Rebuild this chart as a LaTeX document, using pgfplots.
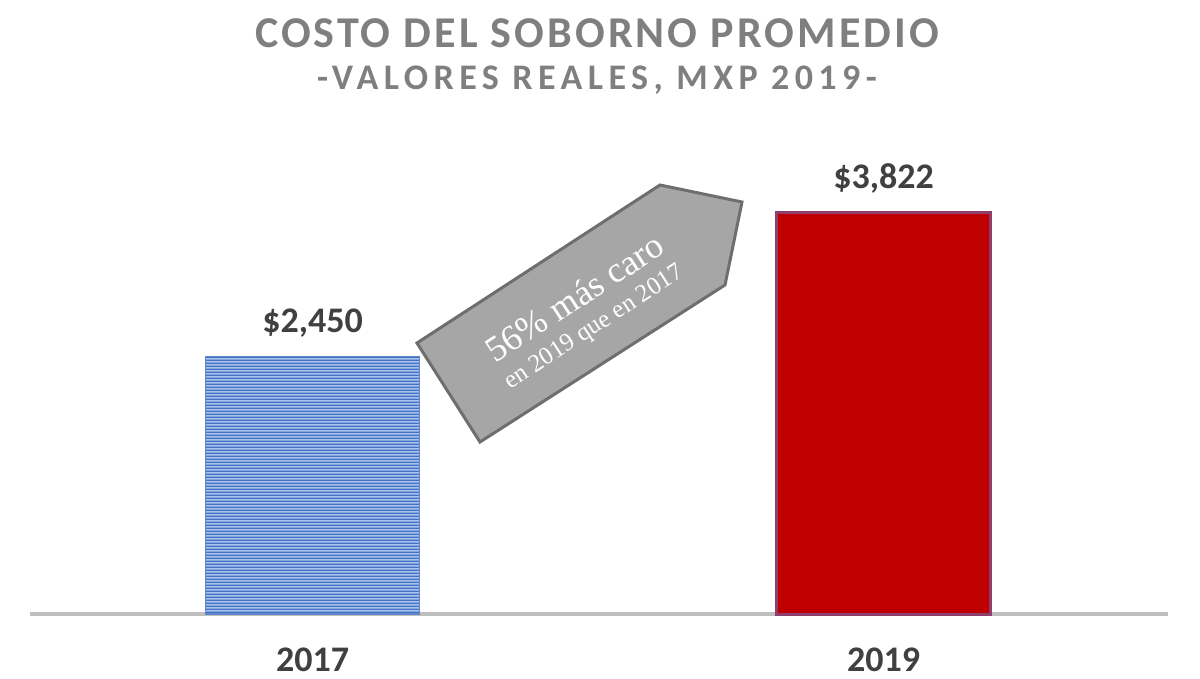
\documentclass[border=0pt]{standalone}
\usepackage{fontspec}
\setsansfont{Carlito}
\newfontfamily\notefont{Liberation Serif}
\usepackage{pgfplots}
\pgfplotsset{compat=1.18}
\usetikzlibrary{patterns}

\definecolor{titlegray}{HTML}{7F7F7F}
\definecolor{labgray}{HTML}{404040}
\definecolor{barblue}{HTML}{4472C4}
\definecolor{barlight}{HTML}{A9C2EC}
\definecolor{barred}{HTML}{C00000}
\definecolor{redrim}{HTML}{7A5A9A}
\definecolor{arrowfill}{HTML}{A6A6A6}
\definecolor{arrowdraw}{HTML}{6E6E6E}
\definecolor{axisgray}{HTML}{BFBFBF}

% wide horizontal stripes, so the tiles leave no vertical seams
\pgfdeclarepatternformonly{hstripes}{\pgfpoint{0pt}{0pt}}{\pgfpoint{500pt}{1.5pt}}%
  {\pgfpoint{500pt}{1.5pt}}{%
  \pgfpathrectangle{\pgfpoint{0pt}{0pt}}{\pgfpoint{500pt}{0.85pt}}%
  \pgfusepath{fill}}

\begin{document}
\begin{tikzpicture}[x=1pt,y=1pt]
  \path[use as bounding box] (0,0) rectangle (600,-339.5);

  % titles
  \node[font=\sffamily\bfseries\fontsize{22}{22}\selectfont\addfontfeature{LetterSpace=7},
        text=titlegray] at (298.5,-16.5) {COSTO DEL SOBORNO PROMEDIO};
  \node[font=\sffamily\bfseries\fontsize{18}{18}\selectfont\addfontfeature{LetterSpace=15},
        text=titlegray] at (298.5,-40) {-VALORES REALES, MXP 2019-};

  \begin{axis}[
    at={(15pt,-307pt)}, anchor=south west,
    scale only axis, width=569pt, height=236.5pt,
    xmin=-0.4947, xmax=1.498, ymin=0, ymax=4500,
    axis y line=none, axis x line*=bottom,
    axis line style={draw=axisgray, line width=2pt, -},
    xtick={0,1}, xticklabels={2017,2019}, ytick=\empty,
    major tick length=0pt,
    xticklabel style={font=\sffamily\bfseries\fontsize{18}{18}\selectfont,
      text=labgray, anchor=base, yshift=-28.75pt},
    ybar, bar width=107pt, bar shift=0pt,
    nodes near coords, point meta=explicit symbolic,
    nodes near coords style={font=\sffamily\bfseries\fontsize{18}{18}\selectfont,
      text=labgray, anchor=base, yshift=11.75pt},
    clip=false,
  ]
    \addplot[fill=barlight, draw=barblue!85, line width=0.6pt,
      postaction={pattern=hstripes, pattern color=barblue}]
      coordinates {(0,2450) [\$2,450]};
    \addplot[fill=barred, draw=redrim!70!barred, line width=1.5pt]
      coordinates {(1,3822) [\$3,822]};
  \end{axis}

  % annotation arrow
  \draw[fill=arrowfill, draw=arrowdraw, line width=1.5pt, line join=miter]
    (208.5,-171.5) -- (330,-92.5) -- (371,-101) -- (362.5,-142.5) -- (240,-221) -- cycle;
  \node[rotate=33, text=white, align=center, inner sep=0pt, font=\notefont]
    at (292,-156)
    {{\fontsize{18}{18}\selectfont 56\% más caro}\\[3pt]
     {\fontsize{12.5}{12.5}\selectfont en 2019 que en 2017}};
\end{tikzpicture}
\end{document}
